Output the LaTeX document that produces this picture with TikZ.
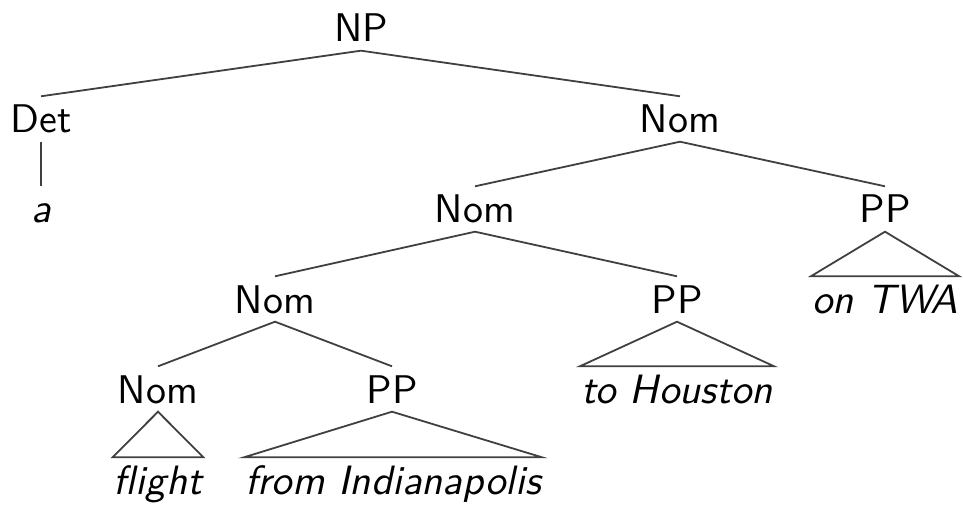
\documentclass[tikz,border=0pt]{standalone}
\usepackage{fontspec}
\setsansfont{lmsans10-regular.otf}[ItalicFont=lmsans10-oblique.otf]
\usetikzlibrary{positioning}
\tikzset{
  cat/.style  = {font=\sffamily\fontsize{40}{48}\selectfont,
                 anchor=base, text height=28pt, text depth=0pt,
                 inner xsep=1pt, inner ysep=8.5pt},
  word/.style = {cat, font=\sffamily\itshape\fontsize{41}{48}\selectfont},
  edge/.style = {draw=black!75, line width=1.8pt},
  tri/.style  = {edge, line join=miter}
}

\begin{document}
\begin{tikzpicture}[x=1pt, y=-1pt]
    \useasboundingbox (0,0) rectangle (963,510);
    % categories
    \node[cat] (np)    at (361,42)  {NP};
    \node[cat] (det)   at (41,133)  {Det};
    \node[cat] (nomA)  at (680,133) {Nom};
    \node[cat] (nomB)  at (475,223) {Nom};
    \node[cat] (ppA)   at (885,223) {PP};
    \node[cat] (nomC)  at (275,313) {Nom};
    \node[cat] (ppB)   at (677,313) {PP};
    \node[cat] (nomD)  at (158,403) {Nom};
    \node[cat] (ppC)   at (392,403) {PP};
    % words
    \node[word] (wa)    at (41,223)  {a};
    \node[word] (wtwa)  at (885,313) {on TWA};
    \node[word] (whou)  at (677,403) {to Houston};
    \node[word] (wfli)  at (158,494) {flight};
    \node[word] (wind)  at (393,494) {from Indianapolis};
    % branches
    \draw[edge] (det.north) -- (np.south) -- (nomA.north);
    \draw[edge] (det.south) -- (wa.north);
    \draw[edge] (nomB.north) -- (nomA.south) -- (ppA.north);
    \draw[edge] (nomC.north) -- (nomB.south) -- (ppB.north);
    \draw[edge] (nomD.north) -- (nomC.south) -- (ppC.north);
    % triangles
    \draw[tri] (ppA.south) -- (wtwa.north east) -- (wtwa.north west) -- cycle;
    \draw[tri] (ppB.south) -- (whou.north east) -- (whou.north west) -- cycle;
    \draw[tri] (nomD.south) -- (wfli.north east) -- (wfli.north west) -- cycle;
    \draw[tri] (ppC.south) -- (wind.north east) -- (wind.north west) -- cycle;
\end{tikzpicture}
\end{document}
